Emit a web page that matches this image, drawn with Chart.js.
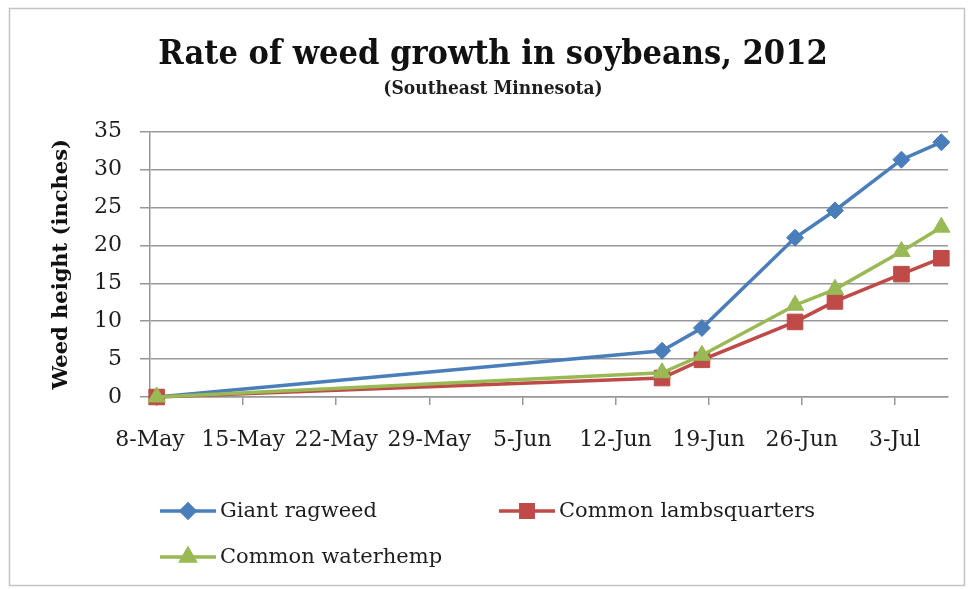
<!DOCTYPE html>
<html>
<head>
<meta charset="utf-8">
<script src="https://cdn.jsdelivr.net/npm/chart.js@4.4.0/dist/chart.umd.min.js"></script>
<style>
  html, body { margin: 0; padding: 0; background: #fff; }
  #wrap { width: 968px; height: 589px; position: relative; }
</style>
</head>
<body>
<div id="wrap"><canvas id="chart"></canvas></div>
<script>
// sampling dates, as days after 8-May-2012
const sampleDays = [0.5, 38.5, 41.5, 48.5, 51.5, 56.5, 59.5];
const giantRagweed = [0, 6.1, 9.1, 21.0, 24.6, 31.3, 33.6];
const lambsquarters = [0, 2.5, 4.9, 9.9, 12.6, 16.2, 18.3];
const waterhemp = [0, 3.2, 5.5, 12.1, 14.2, 19.2, 22.4];
const dateTicks = ['8-May', '15-May', '22-May', '29-May', '5-Jun', '12-Jun', '19-Jun', '26-Jun', '3-Jul'];

const SERIF = "'DejaVu Serif', serif";
const TITLE_FONT = "'DejaVu Serif Condensed', 'DejaVu Serif', serif";
const GRID = '#979797';

const toPoints = (vals) => vals.map((v, i) => ({ x: sampleDays[i], y: v }));

function series(label, vals, color, style, radius, order) {
  return {
    label,
    data: toPoints(vals),
    borderColor: color,
    backgroundColor: color,
    borderWidth: 3.5,
    pointStyle: style,
    pointRadius: radius,
    pointBorderWidth: 1,
    pointBackgroundColor: color,
    pointBorderColor: color,
    tension: 0,
    clip: false,
    order
  };
}

// light frame round the whole chart
const framePlugin = {
  id: 'frame',
  beforeDraw(chart) {
    const ctx = chart.ctx;
    ctx.save();
    ctx.fillStyle = '#fff';
    ctx.fillRect(0, 0, chart.width, chart.height);
    ctx.strokeStyle = '#c4c4c4';
    ctx.lineWidth = 1.5;
    ctx.strokeRect(9.5, 8.5, 955, 577);
    ctx.restore();
  }
};

// two-column legend like the spreadsheet one
const legendSlots = [[160, 511], [499, 511], [160, 557]];
const legendPlugin = {
  id: 'gridLegend',
  afterDraw(chart) {
    const ctx = chart.ctx;
    ctx.save();
    chart.data.datasets.forEach((ds, i) => {
      const [x, y] = legendSlots[i];
      ctx.strokeStyle = ds.borderColor;
      ctx.lineWidth = 3.5;
      ctx.beginPath();
      ctx.moveTo(x, y);
      ctx.lineTo(x + 56, y);
      ctx.stroke();
      ctx.fillStyle = ds.backgroundColor;
      Chart.helpers.drawPoint(ctx, {
        pointStyle: ds.pointStyle,
        radius: ds.pointRadius * 0.8,
        rotation: 0,
        borderWidth: 1
      }, x + 28, y);
      ctx.fillStyle = '#1e1e1e';
      ctx.font = '21px ' + SERIF;
      ctx.textBaseline = 'middle';
      ctx.textAlign = 'left';
      ctx.fillText(ds.label, x + 60, y + 1);
    });
    ctx.restore();
  }
};

new Chart(document.getElementById('chart'), {
  type: 'line',
  data: {
    datasets: [
      series('Giant ragweed', giantRagweed, '#4a7ebb', 'rectRot', 8.5, 2),
      series('Common lambsquarters', lambsquarters, '#be4b48', 'rect', 11, 1),
      series('Common waterhemp', waterhemp, '#98b954', 'triangle', 10, 0)
    ]
  },
  options: {
    responsive: true,
    maintainAspectRatio: false,
    animation: false,
    devicePixelRatio: 1,
    layout: { padding: { left: 38, right: 20, top: 0, bottom: 0 } },
    plugins: {
      legend: { display: false },
      tooltip: { enabled: false },
      title: {
        display: true,
        text: 'Rate of weed growth in soybeans, 2012',
        color: '#111',
        font: { family: TITLE_FONT, size: 34, weight: 'bold' },
        padding: { top: 35, bottom: 2 }
      },
      subtitle: {
        display: true,
        text: '(Southeast Minnesota)',
        color: '#1e1e1e',
        font: { family: TITLE_FONT, size: 19, weight: 'bold' },
        padding: { top: 0, bottom: 31 }
      }
    },
    scales: {
      x: {
        type: 'linear',
        min: 0,
        max: 60,
        afterFit(scale) { scale.height = 192; },
        grid: { drawOnChartArea: false, drawTicks: true, tickLength: 8, color: GRID, lineWidth: 1.5 },
        border: { display: true, color: GRID, width: 1.5 },
        ticks: {
          stepSize: 7,
          includeBounds: false,
          autoSkip: false,
          maxRotation: 0,
          padding: 22,
          color: '#1e1e1e',
          font: { family: SERIF, size: 22 },
          callback: (v) => dateTicks[Math.round(v / 7)] || ''
        }
      },
      y: {
        min: 0,
        max: 35,
        afterFit(scale) { scale.width = 112; },
        grid: { color: GRID, lineWidth: 1.5, tickLength: 10 },
        border: { display: true, color: GRID, width: 1.5 },
        ticks: {
          stepSize: 5,
          padding: 18,
          color: '#1e1e1e',
          font: { family: SERIF, size: 22 }
        },
        title: {
          display: true,
          text: 'Weed height (inches)',
          color: '#111',
          font: { family: SERIF, size: 21, weight: 'bold' },
          padding: { top: 11, bottom: 0 }
        }
      }
    }
  },
  plugins: [framePlugin, legendPlugin]
});
</script>
</body>
</html>
